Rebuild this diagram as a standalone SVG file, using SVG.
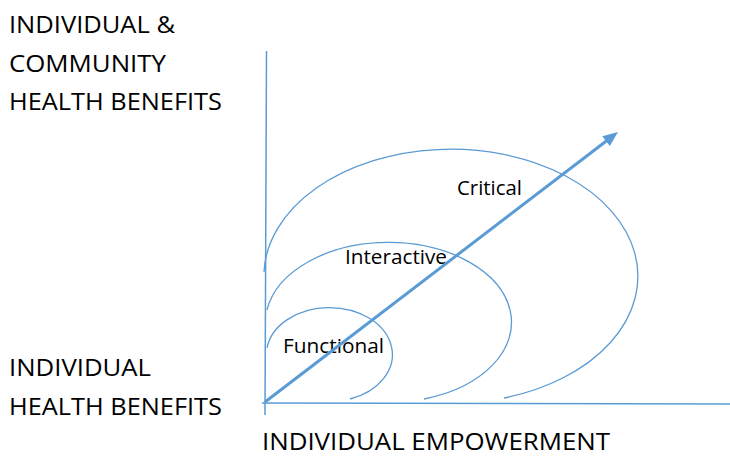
<svg xmlns="http://www.w3.org/2000/svg" width="730" height="457" viewBox="0 0 730 457">
<style>
.ln{fill:none;stroke:#5B9BD5;stroke-width:1.3}
.ax{fill:none;stroke:#5B9BD5;stroke-width:1.5}
.t{font-family:"Open Sans","Liberation Sans",sans-serif;fill:#000}
.big{font-size:24.5px}
.sm{font-size:20px}
</style>
<rect width="730" height="457" fill="#fff"/>
<g id="axis-labels">
<text class="t big" x="9" y="33" textLength="166" lengthAdjust="spacingAndGlyphs">INDIVIDUAL &amp;</text>
<text class="t big" x="9" y="72" textLength="157" lengthAdjust="spacingAndGlyphs">COMMUNITY</text>
<text class="t big" x="9" y="110" textLength="213" lengthAdjust="spacingAndGlyphs">HEALTH BENEFITS</text>
<text class="t big" x="9" y="376" textLength="142" lengthAdjust="spacingAndGlyphs">INDIVIDUAL</text>
<text class="t big" x="9" y="415" textLength="213" lengthAdjust="spacingAndGlyphs">HEALTH BENEFITS</text>
<text class="t big" x="262" y="450" textLength="348" lengthAdjust="spacingAndGlyphs">INDIVIDUAL EMPOWERMENT</text>
</g>
<g id="axes">
<line class="ax" x1="266.5" y1="51" x2="265" y2="415"/>
<line class="ax" x1="262" y1="403" x2="730" y2="404"/>
</g>
<g id="functional">
<path class="ln" d="M267 348 A63 47 0 1 1 350 399"/>
<text class="t sm" x="283" y="353" textLength="101" lengthAdjust="spacingAndGlyphs">Functional</text>
</g>
<g id="interactive">
<path class="ln" d="M267 310 A123 80 0 1 1 424 399"/>
<text class="t sm" x="345" y="264" textLength="102" lengthAdjust="spacingAndGlyphs">Interactive</text>
</g>
<g id="critical">
<path class="ln" d="M264 272 A187 127 0 1 1 504 398"/>
<text class="t sm" x="457" y="195" textLength="65" lengthAdjust="spacingAndGlyphs">Critical</text>
</g>
<g id="connectors">
<line x1="265" y1="402" x2="607" y2="140.5" stroke="#5B9BD5" stroke-width="3"/>
<polygon points="618,132 609.8,146 602.3,136.3" fill="#5B9BD5"/>
</g>
</svg>
